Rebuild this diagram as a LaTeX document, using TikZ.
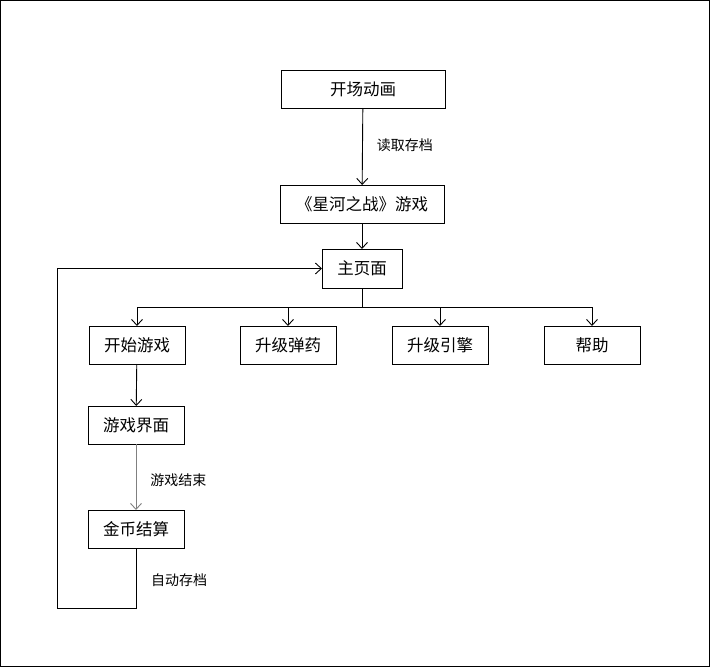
\documentclass[tikz,border=0pt]{standalone}
\usepackage{fontspec}
\setmainfont{Noto Sans CJK SC}
\usetikzlibrary{arrows.meta,positioning}

\begin{document}
\begin{tikzpicture}[
  x=1pt, y=-1pt,
  >={Straight Barb[length=6pt,width=11pt]},
  box/.style={draw, line width=1pt, minimum width=#1, minimum height=38pt,
              inner sep=0pt, outer sep=0pt, font=\fontsize{16.5}{19}\selectfont},
  box/.default=96pt,
  lbl/.style={font=\fontsize{14}{16}\selectfont, right, inner sep=0pt},
  arr/.style={->, line width=0.9pt},
]
\useasboundingbox (0,0) rectangle (710,667);
\draw[line width=1pt] (0.5,0.5) rectangle (709.5,666.5);

%% top chain
\node[box=164pt] (intro) at (363,89) {开场动画};
\node[box=164pt, below=77pt of intro.south, anchor=north, xshift=-1pt] (game) {《星河之战》游戏};
\node[box=80pt, minimum height=39pt, below=26pt of game.south, anchor=north] (home) {主页面};

\draw[arr] (intro) -- (game) node[lbl, midway, xshift=14pt, yshift=1pt] {读取存档};
\draw[arr] (game) -- (home);

%% menu row
\node[box] (play)   at (137,345) {开始游戏};
\node[box, right=55pt of play]   (ammo)   {升级弹药};
\node[box, right=56pt of ammo]   (engine) {升级引擎};
\node[box, right=56pt of engine] (help)   {帮助};

\draw[arr] (home.south) -- ++(0,19) -| (play.north);
\draw[arr] (home.south) -- ++(0,19) -| (ammo.north);
\draw[arr] (home.south) -- ++(0,19) -| (engine.north);
\draw[arr] (home.south) -- ++(0,19) -| (help.north);

%% game flow
\node[box, below=42pt of play, xshift=-1pt] (screen) {游戏界面};
\node[box, below=66pt of screen] (coins) {金币结算};

\draw[arr] (play) -- (screen);
\draw[arr, draw=gray] (screen) -- (coins) node[lbl, midway, xshift=14pt, yshift=-3pt] {游戏结束};

%% back to home page
\coordinate (loop) at (57,608);
\draw[arr] (coins.south) |- (loop) |- (home.west);
\node[lbl] (save) at (151,580) {自动存档};

\end{tikzpicture}
\end{document}
